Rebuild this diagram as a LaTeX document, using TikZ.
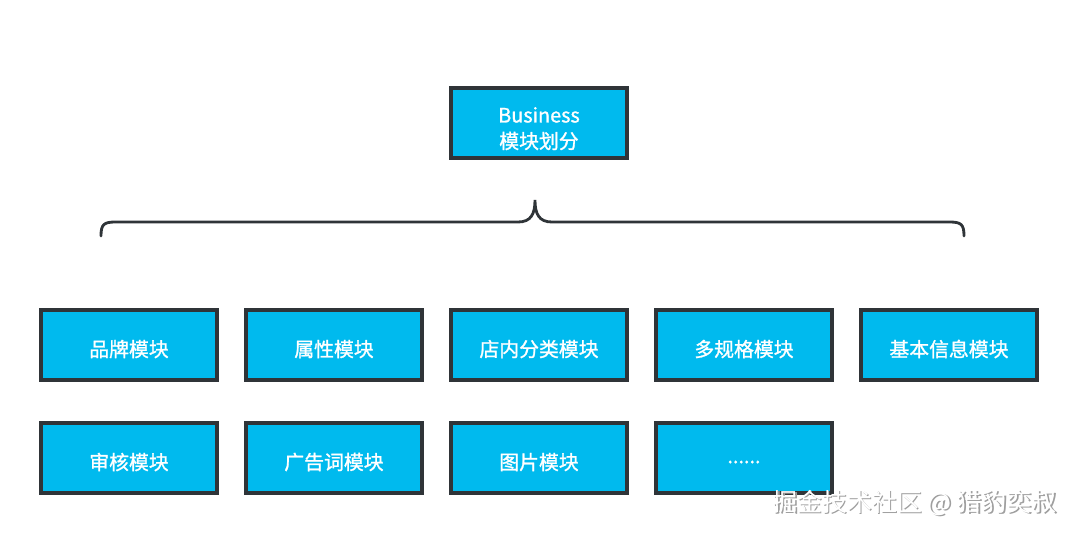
\documentclass[tikz,border=0pt]{standalone}
\usepackage{fontspec}
\setmainfont{Noto Sans CJK SC}
\newfontfamily\cjk[FakeBold=1.2]{Noto Sans CJK SC}
\newfontfamily\cjkplain{Noto Sans CJK SC}
\definecolor{boxfill}{HTML}{00BAEE}
\definecolor{boxline}{HTML}{2F3438}
\tikzset{
  modbox/.style={draw=boxline, line width=2.6pt, fill=boxfill, minimum width=176\px, minimum height=70\px,
    inner sep=0pt, text=white, align=center, font=\cjk\fontsize{11.3}{14.5}\selectfont},
}
\def\px{*0.02cm}
\def\lowered#1{\raisebox{-2.3pt}[\height][\depth]{#1}}
\begin{document}
\begin{tikzpicture}[x=0.02cm, y=-0.02cm]
\useasboundingbox (0,0) rectangle (1080,535);

\node[modbox] (top) at (539,123) {\raisebox{-3.2pt}[\height][\depth]{\shortstack{Business\\[2.2pt]模块划分}}};

\node[modbox] (brand) at (129,345) {\lowered{品牌模块}};
\node[modbox] (attr) at (334,345) {\lowered{属性模块}};
\node[modbox] (cat) at (539,345) {\lowered{店内分类模块}};
\node[modbox] (spec) at (744,345) {\lowered{多规格模块}};
\node[modbox] (info) at (949,345) {\lowered{基本信息模块}};

\node[modbox] (audit) at (129,458) {\lowered{审核模块}};
\node[modbox] (ad) at (334,458) {\lowered{广告词模块}};
\node[modbox] (pic) at (539,458) {\lowered{图片模块}};
\node[modbox] (more) at (744,458) {\lowered{......}};

% brace
\coordinate (L) at (101,236);
\coordinate (R) at (964,236);
\coordinate (T) at (535,200);
\draw[boxline, line width=1.6pt, line cap=round]
  (L) .. controls (101,224) and (104,222) .. (116,222) -- (518,222)
  .. controls (531,222) and (535,214) .. (T)
  .. controls (535,214) and (539,222) .. (552,222) -- (949,222)
  .. controls (961,222) and (964,224) .. (R);

% watermark
\node[anchor=east, text=gray!75, font=\cjkplain\fontsize{14.2}{16}\selectfont] (wmshadow) at (1064.5,504.5) {掘金技术社区 @ 猎豹奕叔};
\node[anchor=east, text=white, font=\cjkplain\fontsize{14.2}{16}\selectfont] (wm) at (1063,503) {掘金技术社区 @ 猎豹奕叔};
\end{tikzpicture}
\end{document}
